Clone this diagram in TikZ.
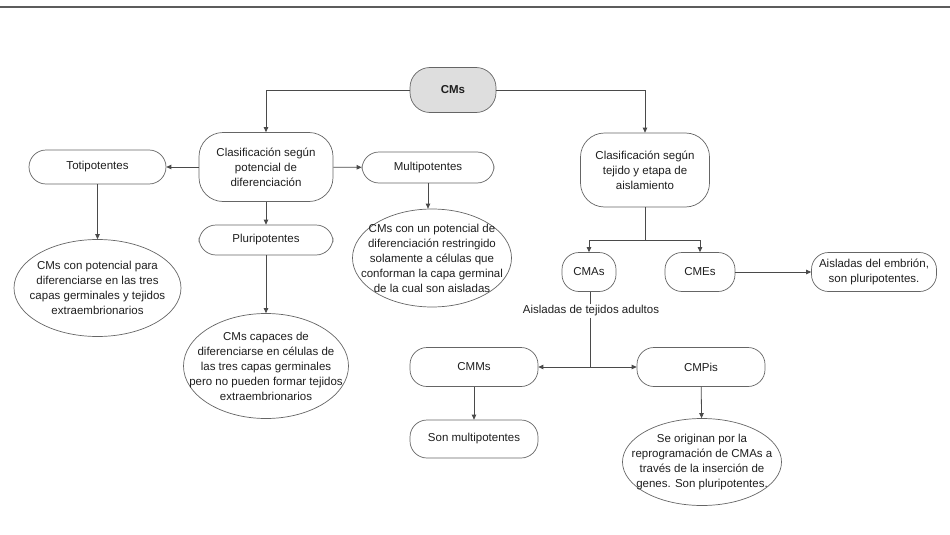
\documentclass[tikz,border=0pt]{standalone}
\usepackage{fontspec}
\setmainfont{Liberation Sans}
\usepackage{xcolor}
\usepackage[]{tikz}
\usetikzlibrary{positioning,shapes,calc}
\usetikzlibrary{arrows.meta,arrows}
\definecolor{lineGray}{HTML}{4A4A4A}
\definecolor{boxGray}{HTML}{DEDEDE}
\definecolor{textGray}{HTML}{1E1E1E}
\tikzstyle{nodeBase}  =[draw=lineGray!85, line width=0.7pt, text=textGray, align=center,
                        font=\fontsize{11.5}{15}\selectfont]
\tikzstyle{nodeRound} =[nodeBase, rectangle, rounded corners=17pt, inner sep=2pt,
                        minimum width=128pt, minimum height=39pt]
\tikzstyle{nodeBig}   =[nodeRound, rounded corners=24pt]
\tikzstyle{nodeOval}  =[nodeBase, ellipse, inner sep=-45pt]
\tikzstyle{link}      =[draw=lineGray, line width=0.8pt, -{Triangle[length=5pt,width=4.5pt]}]
\tikzstyle{plain}     =[draw=lineGray, line width=0.8pt]

\begin{document}
\begin{tikzpicture}[x=1pt,y=-1pt]
      \useasboundingbox (0,0) rectangle (950,535);
      \draw[line width=2.2pt, lineGray!90] (0,7) -- (950,7);
      % root
      \node[nodeRound, fill=boxGray, rounded corners=20pt, minimum width=86pt, minimum height=45pt,
            font=\fontsize{11.5}{15}\selectfont\bfseries] (cms) at (453,90) {CMs};
      % left branch
      \node[nodeBig, minimum width=134pt, minimum height=69pt] (pot) at (266,167)
           {Clasificación según\\potencial de\\diferenciación};
      \node[nodeRound, minimum width=137pt, minimum height=34pt] (toti) at (97.5,167) {Totipotentes};
      \node[nodeRound, minimum width=132pt, minimum height=31pt] (multi) at (428,167.5) {Multipotentes};
      \node[nodeRound, minimum width=134pt, minimum height=30pt] (pluri) at (266,240) {Pluripotentes};
      \node[nodeOval, minimum width=167pt, minimum height=97pt] (totiTxt) at (97.5,288)
           {CMs con potencial para\\diferenciarse en las tres\\capas germinales y tejidos\\extraembrionarios};
      \node[nodeOval, minimum width=165pt, minimum height=105pt] (pluriTxt) at (266,366)
           {CMs capaces de\\diferenciarse en células de\\las tres capas germinales\\pero no pueden formar tejidos\\extraembrionarios};
      \node[nodeOval, minimum width=159pt, minimum height=98pt] (multiTxt) at (432,258)
           {CMs con un potencial de\\diferenciación restringido\\solamente a células que\\conforman la capa germinal\\de la cual son aisladas};
      % right branch
      \node[nodeBig, minimum width=129pt, minimum height=74pt] (tej) at (645,170)
           {Clasificación según\\tejido y etapa de\\aislamiento};
      \node[nodeRound, minimum width=54pt] (cmas) at (589,272) {CMAs};
      \node[nodeRound, minimum width=70pt] (cmes) at (700,272) {CMEs};
      \node[nodeRound, minimum width=125pt] (emb) at (874,272) {Aisladas del embrión,\\son pluripotentes.};
      \node[text=textGray, font=\fontsize{11.5}{15}\selectfont, inner sep=1pt] (adult) at (591,311)
           {Aisladas de tejidos adultos};
      \node[nodeRound] (cmms) at (474,367) {CMMs};
      \node[nodeRound] (cmpis) at (701,367) {CMPis};
      \node[nodeRound, minimum height=38pt] (son) at (474,439) {Son multipotentes};
      \node[nodeOval, minimum width=159pt, minimum height=87pt] (cmpisTxt) at (702,462)
           {Se originan por la\\reprogramación de CMAs a\\través de la inserción de\\genes. Son pluripotentes.};
      \coordinate (split) at (645,240);
      \coordinate (join) at (590,367);

      \draw[link] (cms) -| (pot);
      \draw[link] (cms) -| (tej);
      \draw[link] (pot) -- (toti);
      \draw[link] (pot) -- (multi);
      \draw[link] (pot) -- (pluri);
      \draw[link] (toti) -- (totiTxt);
      \draw[link] (pluri) -- (pluriTxt);
      \draw[link] (multi.south) -- (multi.south |- multiTxt.north);
      \draw[plain] (tej) -- (split);
      \draw[link] (split) -| (cmas);
      \draw[link] (split) -| (cmes);
      \draw[link] (cmes) -- (emb);
      \draw[plain] (cmas.south -| join) -- (join |- adult.north);
      \draw[plain] (join |- adult.south) -- (join);
      \draw[link] (join) -- (cmms);
      \draw[link] (join) -- (cmpis);
      \draw[link] (cmms) -- (son);
      \draw[link] (cmpis) -- (cmpisTxt);
    \end{tikzpicture}
\end{document}
